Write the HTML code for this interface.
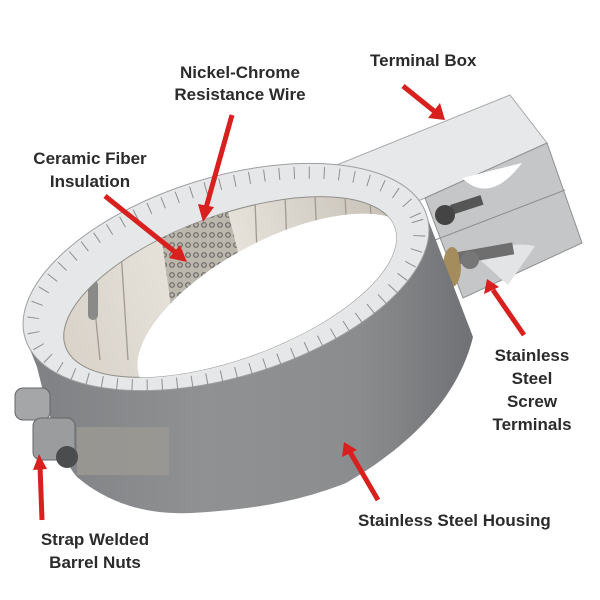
<!DOCTYPE html>
<html><head><style>
body{margin:0;background:#fff;width:600px;height:600px;overflow:hidden}
svg{display:block}
text{font-family:"Liberation Sans",sans-serif;font-weight:bold;fill:#2b2b2b;font-size:17px}
</style></head><body>
<svg width="600" height="600" viewBox="0 0 600 600">
<defs>
<linearGradient id="band" x1="0" x2="1" y1="0" y2="0">
<stop offset="0" stop-color="#7e8083"/><stop offset="0.4" stop-color="#8f9193"/><stop offset="0.75" stop-color="#8a8c8e"/><stop offset="1" stop-color="#6f7174"/>
</linearGradient>
<linearGradient id="inner" x1="0" x2="1">
<stop offset="0" stop-color="#d9d3ca"/><stop offset="0.5" stop-color="#eae6df"/><stop offset="1" stop-color="#c8c2b8"/>
</linearGradient>
<clipPath id="hole"><ellipse cx="230" cy="287" rx="175" ry="72" transform="rotate(-20 230 287)"/></clipPath>
<pattern id="coil" width="8" height="10" patternUnits="userSpaceOnUse">
<rect width="8" height="10" fill="#bdb8ae"/><circle cx="4" cy="5" r="2.3" fill="none" stroke="#6a6866" stroke-width="1.2"/>
</pattern>
</defs>
<!-- terminal box -->
<polygon points="250,200 510,95 547,143 425,198 300,250" fill="#e6e8e9" stroke="#a8aaac"/>
<polygon points="425,198 547,143 582,243 463,298" fill="#c4c6c7" stroke="#8d8f91"/>
<line x1="435" y1="240" x2="565" y2="190" stroke="#8d8f91"/>
<path d="M462,178 Q490,205 522,163Z" fill="#fff"/>
<path d="M478,258 Q505,240 535,246 L508,285Z" fill="#e2e4e5"/>
<rect x="450" y="205" width="32" height="10" fill="#555" transform="rotate(-18 450 205)"/>
<circle cx="445" cy="215" r="10" fill="#444"/>
<ellipse cx="452" cy="267" rx="9" ry="20" fill="#a58c5c"/>
<rect x="458" y="252" width="55" height="12" fill="#6e6e6e" transform="rotate(-10 458 252)"/>
<circle cx="470" cy="260" r="9" fill="#777"/>
<!-- housing band -->
<path d="M25,337 L37,367 C50,420 62,460 77,477 C110,505 150,515 192,513 C240,510 290,505 346,483 C420,440 460,390 473,337 L427,217 Z" fill="url(#band)"/>
<rect x="77" y="427" width="92" height="48" fill="#9c9a93" opacity="0.8"/>
<!-- top rim -->
<ellipse cx="226" cy="277" rx="210" ry="100" transform="rotate(-17 226 277)" fill="#e6e7e8" stroke="#9da0a2"/>
<ellipse cx="226" cy="279" rx="200" ry="93" transform="rotate(-17 226 279)" fill="none" stroke="#8d8f91" stroke-width="12" stroke-dasharray="1 14"/>
<ellipse cx="230" cy="287" rx="175" ry="72" transform="rotate(-20 230 287)" fill="url(#inner)" stroke="#8e8e8a"/>
<g clip-path="url(#hole)">
<g stroke="#a09a90" stroke-width="1.3">
<line x1="90" y1="260" x2="100" y2="360"/><line x1="120" y1="235" x2="128" y2="360"/>
<line x1="255" y1="200" x2="260" y2="330"/><line x1="285" y1="195" x2="290" y2="320"/>
<line x1="315" y1="195" x2="320" y2="310"/><line x1="345" y1="195" x2="350" y2="300"/>
<line x1="370" y1="200" x2="375" y2="290"/>
</g>
<polygon points="158,213 225,200 250,300 175,335" fill="url(#coil)"/>
<rect x="88" y="280" width="10" height="40" rx="5" fill="#8a8a88"/>
<ellipse cx="278" cy="308" rx="155" ry="68" transform="rotate(-28 278 308)" fill="#fff"/>
</g>
<!-- barrel nuts -->
<rect x="15" y="388" width="35" height="32" rx="8" fill="#a4a6a8" stroke="#666"/>
<rect x="33" y="418" width="42" height="42" rx="8" fill="#9a9c9e" stroke="#666"/>
<circle cx="67" cy="457" r="11" fill="#4a4c4e"/>
<!-- arrows -->
<g stroke="#d8201f" stroke-width="5" fill="#d8201f">
<line x1="403" y1="86" x2="434" y2="111"/><polygon points="428,118 445,120 440,103" stroke="none"/>
<line x1="232" y1="115" x2="206" y2="208"/><polygon points="198,204 203,222 214,207" stroke="none"/>
<line x1="105" y1="196" x2="175" y2="252"/><polygon points="169,258 187,262 180,245" stroke="none"/>
<line x1="524" y1="335" x2="493" y2="290"/><polygon points="484,294 487,279 499,287" stroke="none"/>
<line x1="378" y1="500" x2="350" y2="452"/><polygon points="342,457 344,442 357,450" stroke="none"/>
<line x1="42" y1="520" x2="40" y2="466"/><polygon points="33,470 39,454 47,469" stroke="none"/>
</g>
<text x="370" y="66">Terminal Box</text>
<text x="240" y="78" text-anchor="middle">Nickel-Chrome</text>
<text x="240" y="100" text-anchor="middle">Resistance Wire</text>
<text x="90" y="164" text-anchor="middle">Ceramic Fiber</text>
<text x="90" y="187" text-anchor="middle">Insulation</text>
<text x="532" y="361" text-anchor="middle">Stainless</text>
<text x="532" y="384" text-anchor="middle">Steel</text>
<text x="532" y="407" text-anchor="middle">Screw</text>
<text x="532" y="430" text-anchor="middle">Terminals</text>
<text x="358" y="526">Stainless Steel Housing</text>
<text x="95" y="545" text-anchor="middle">Strap Welded</text>
<text x="95" y="568" text-anchor="middle">Barrel Nuts</text>
</svg>
</body></html>
